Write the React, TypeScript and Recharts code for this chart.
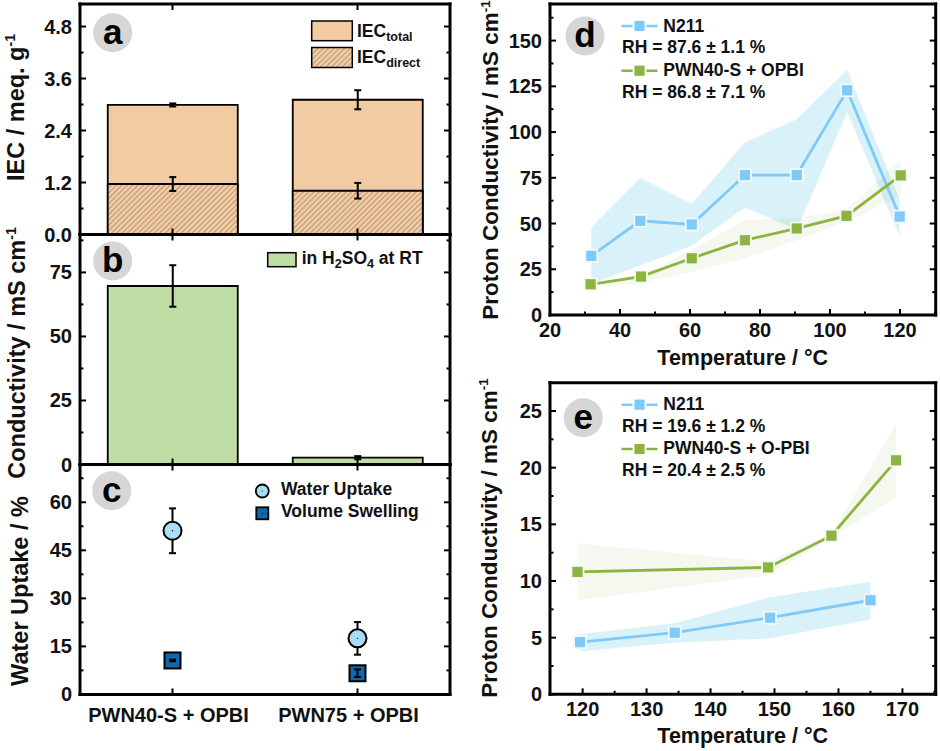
import React from "react";
import { ComposedChart, Bar, Line, Area, XAxis, YAxis, ErrorBar } from "recharts";

const FONT = "'Liberation Sans', Arial, sans-serif";
const BLUE = "#7ECBFB";
const GREEN = "#8CB43F";
const BLUE_BAND = "rgba(120,205,235,0.28)";
const GREEN_BAND = "rgba(150,190,90,0.1)";
const ORANGE = "#F2CBA3";
const BAR_GREEN = "#BFDDA5";
const HATCH = "#6B5A48";

const categories = ["PWN40-S + OPBI", "PWN75 + OPBI"];
const categoryLabelShift = [-4, -9];

// panel a
const iecTotal = [2.99, 3.11];
const iecTotalErr = [0.035, 0.22];
const iecDirect = [1.165, 1.01];
const iecDirectErr = [0.16, 0.18];
const iecTicks = [0, 0.6, 1.2, 1.8, 2.4, 3, 3.6, 4.2, 4.8];
const iecMajor = [0, 1.2, 2.4, 3.6, 4.8];

// panel b
const acidCond = [69.7, 2.66];
const acidCondErr = [8.1, 0.6];
const condTicks = [0, 12.5, 25, 37.5, 50, 62.5, 75, 87.5];
const condMajor = [0, 25, 50, 75];

// panel c
const waterUptake = [51.1, 17.5];
const waterUptakeErr = [7, 5.1];
const swelling = [10.6, 6.6];
const swellingErr = [0.25, 1.2];
const uptakeTicks = [0, 7.5, 15, 22.5, 30, 37.5, 45, 52.5, 60, 67.5];
const uptakeMajor = [0, 15, 30, 45, 60];

// panel d
const dTempN211 = [31.8, 45.8, 60.5, 75.7, 90.5, 104.9, 119.9];
const dCondN211 = [32.3, 51.5, 49.5, 76.5, 76.5, 122.8, 53.8];
const dHighN211 = [48, 75, 60.8, 94.3, 107, 134, 63];
const dLowN211 = [17, 27, 38, 58.8, 46.5, 111, 43.2];
const dTempPwn = [31.6, 46, 60.5, 75.7, 90.5, 104.7, 120.2];
const dCondPwn = [16.8, 21, 31, 40.9, 47.3, 54.2, 76.3];
const dHighPwn = [17.5, 22, 35.6, 52, 53, 57.5, 85];
const dLowPwn = [16, 17.3, 23.7, 31, 41, 51, 65];
const dXTicks = [20, 30, 40, 50, 60, 70, 80, 90, 100, 110, 120, 130];
const dXMajor = [20, 40, 60, 80, 100, 120];
const dYTicks = [0, 12.5, 25, 37.5, 50, 62.5, 75, 87.5, 100, 112.5, 125, 137.5, 150, 162.5];
const dYMajor = [0, 25, 50, 75, 100, 125, 150];

// panel e
const eTempN211 = [119.6, 134.4, 149.3, 165];
const eCondN211 = [4.6, 5.44, 6.76, 8.3];
const eHighN211 = [5.3, 6.26, 8.56, 9.94];
const eLowN211 = [3.8, 4.56, 4.94, 6.6];
const eTempPwn = [119.2, 149, 158.9, 169];
const eCondPwn = [10.8, 11.2, 14, 20.65];
const eHighPwn = [13.3, 11.7, 14.2, 23.85];
const eLowPwn = [8.3, 10.5, 13.8, 17.4];
const eXTicks = [120, 125, 130, 135, 140, 145, 150, 155, 160, 165, 170, 175];
const eXMajor = [120, 130, 140, 150, 160, 170];
const eYTicks = [0, 2.5, 5, 7.5, 10, 12.5, 15, 17.5, 20, 22.5, 25];
const eYMajor = [0, 5, 10, 15, 20, 25];

const iecRows = categories.map((name, i) => ({
  name,
  total: iecTotal[i],
  totalErr: iecTotalErr[i],
  direct: iecDirect[i],
  directErr: iecDirectErr[i],
}));
const acidRows = categories.map((name, i) => ({ name, cond: acidCond[i], err: acidCondErr[i] }));
const uptakeRows = categories.map((name, i) => ({
  name,
  uptake: waterUptake[i],
  uptakeErr: waterUptakeErr[i],
  swelling: swelling[i],
  swellingErr: swellingErr[i],
}));

const rows = (temp: number[], cond: number[], low: number[], high: number[]) =>
  temp.map((t, i) => ({ t, cond: cond[i], band: [low[i], high[i]] }));

const AXIS_LINE = { stroke: "#000", strokeWidth: 3, strokeLinecap: "square" as const };

function AxisTick(props: any) {
  const { x, y, payload, side, majors, fmt, labels, index } = props;
  const major = !majors || majors.includes(payload.value);
  const len = major ? 6 : 3.5;
  const dir = {
    left: [len, 0],
    right: [-len, 0],
    bottom: [0, -len],
    top: [0, len],
  }[side as string] as number[];
  let label = null;
  if (labels && major) {
    const common = { fontFamily: FONT, fontWeight: 700, fontSize: 20, fill: "#111" };
    if (side === "left") {
      label = (
        <text x={x - 8} y={y + 7} textAnchor="end" {...common}>
          {fmt ? fmt(payload.value) : payload.value}
        </text>
      );
    } else {
      const shift = labels === "cat" ? categoryLabelShift[index] : 0;
      label = (
        <text x={x + shift} y={y + (labels === "cat" ? 27.5 : 22)} textAnchor="middle" {...common}>
          {payload.value}
        </text>
      );
    }
  }
  return (
    <g>
      <line x1={x} y1={y} x2={x + dir[0]} y2={y + dir[1]} stroke="#000" strokeWidth={2} />
      {label}
    </g>
  );
}

const tickFor = (side: string, majors?: number[], labels?: any, fmt?: (v: number) => string) => (p: any) =>
  <AxisTick {...p} side={side} majors={majors} labels={labels} fmt={fmt} />;

const SquareDot = (color: string) => (p: any) => (
  <rect
    key={p.index}
    x={p.cx - 6}
    y={p.cy - 6}
    width={12}
    height={12}
    fill={color}
    stroke="#F4F9F6"
    strokeWidth={1.8}
  />
);

const CircleDot = (p: any) => (
  <g key={p.index}>
    <circle cx={p.cx} cy={p.cy} r={9} fill="#A9DDF5" stroke="#000" strokeWidth={2} />
    <circle cx={p.cx} cy={p.cy} r={0.7} fill="#000" />
  </g>
);

const BlackSquare = (p: any) => (
  <g key={p.index}>
    <rect x={p.cx - 8} y={p.cy - 8} width={16} height={16} fill="#0F67AE" stroke="#000" strokeWidth={2} />
    <circle cx={p.cx} cy={p.cy} r={0.7} fill="#000" />
  </g>
);

function BarPanel({ children, data, top, height, topH, bottomH, yDomain, yTicks, yMajor, fmt, catLabels }: any) {
  return (
    <div style={{ position: "absolute", left: 0, top }}>
      <ComposedChart
        width={470}
        height={height}
        data={data}
        margin={{ top: 0, right: 0, bottom: 0, left: 0 }}
        barCategoryGap="15%"
      >
        <defs>
          <pattern id="hatchBar" patternUnits="userSpaceOnUse" width="3.8" height="3.8" patternTransform="rotate(45)">
            <rect width="3.8" height="3.8" fill={ORANGE} />
            <line x1="0" y1="0" x2="0" y2="3.8" stroke={HATCH} strokeWidth="0.9" />
          </pattern>
        </defs>
        <XAxis
          xAxisId="bottom"
          dataKey="name"
          orientation="bottom"
          height={bottomH}
          scale="band"
          interval={0}
          tickSize={0}
          tickMargin={0}
          tickLine={false}
          axisLine={AXIS_LINE}
          tick={tickFor("bottom", undefined, catLabels ? "cat" : undefined)}
        />
        <XAxis
          xAxisId="top"
          dataKey="name"
          orientation="top"
          height={topH}
          scale="band"
          interval={0}
          tickSize={0}
          tickMargin={0}
          tickLine={false}
          axisLine={AXIS_LINE}
          tick={tickFor("top")}
        />
        <YAxis
          yAxisId="left"
          orientation="left"
          width={80}
          type="number"
          domain={yDomain}
          ticks={yTicks}
          interval={0}
          allowDataOverflow
          tickSize={0}
          tickMargin={0}
          tickLine={false}
          axisLine={AXIS_LINE}
          tick={tickFor("left", yMajor, true, fmt)}
        />
        <YAxis
          yAxisId="right"
          orientation="right"
          width={20}
          type="number"
          domain={yDomain}
          ticks={yTicks}
          interval={0}
          allowDataOverflow
          tickSize={0}
          tickMargin={0}
          tickLine={false}
          axisLine={AXIS_LINE}
          tick={tickFor("right", yMajor)}
        />
        {children}
      </ComposedChart>
    </div>
  );
}

function LinePanel({ top, height, topH, bottomH, xDomain, xTicks, xMajor, yDomain, yTicks, yMajor, n211, pwn }: any) {
  return (
    <div style={{ position: "absolute", left: 470, top }}>
      <ComposedChart width={470} height={height} margin={{ top: 0, right: 0, bottom: 0, left: 0 }}>
        <XAxis
          xAxisId="bottom"
          orientation="bottom"
          dataKey="t"
          type="number"
          height={bottomH}
          domain={xDomain}
          ticks={xTicks}
          interval={0}
          allowDataOverflow
          tickSize={0}
          tickMargin={0}
          tickLine={false}
          axisLine={AXIS_LINE}
          tick={tickFor("bottom", xMajor, true)}
        />
        <XAxis
          xAxisId="top"
          orientation="top"
          type="number"
          height={topH}
          domain={xDomain}
          ticks={xTicks}
          interval={0}
          allowDataOverflow
          tickSize={0}
          tickMargin={0}
          tickLine={false}
          axisLine={AXIS_LINE}
          tick={tickFor("top", xMajor)}
        />
        <YAxis
          yAxisId="left"
          orientation="left"
          width={80}
          type="number"
          domain={yDomain}
          ticks={yTicks}
          interval={0}
          allowDataOverflow
          tickSize={0}
          tickMargin={0}
          tickLine={false}
          axisLine={AXIS_LINE}
          tick={tickFor("left", yMajor, true)}
        />
        <YAxis
          yAxisId="right"
          orientation="right"
          width={4.3}
          type="number"
          domain={yDomain}
          ticks={yTicks}
          interval={0}
          allowDataOverflow
          tickSize={0}
          tickMargin={0}
          tickLine={false}
          axisLine={AXIS_LINE}
          tick={tickFor("right", yMajor)}
        />
        <Area
          xAxisId="bottom"
          yAxisId="left"
          data={n211}
          dataKey="band"
          stroke="none"
          fill={BLUE_BAND}
          fillOpacity={1}
          dot={false}
          activeDot={false}
          isAnimationActive={false}
        />
        <Area
          xAxisId="bottom"
          yAxisId="left"
          data={pwn}
          dataKey="band"
          stroke="none"
          fill={GREEN_BAND}
          fillOpacity={1}
          dot={false}
          activeDot={false}
          isAnimationActive={false}
        />
        <Line
          xAxisId="bottom"
          yAxisId="left"
          data={n211}
          dataKey="cond"
          stroke={BLUE}
          strokeWidth={2.8}
          dot={SquareDot(BLUE)}
          activeDot={false}
          isAnimationActive={false}
        />
        <Line
          xAxisId="bottom"
          yAxisId="left"
          data={pwn}
          dataKey="cond"
          stroke={GREEN}
          strokeWidth={2.8}
          dot={SquareDot(GREEN)}
          activeDot={false}
          isAnimationActive={false}
        />
      </ComposedChart>
    </div>
  );
}

const txt = { fontFamily: FONT, fontWeight: 700, fill: "#111" };

function YTitle({ x, y, size, main, sup }: any) {
  return (
    <text transform={`translate(${x},${y}) rotate(-90)`} textAnchor="middle" fontSize={size} {...txt}>
      {main}
      {sup ? (
        <tspan fontSize={size * 0.6} dy={-size * 0.38}>
          {sup}
        </tspan>
      ) : null}
    </text>
  );
}

function Badge({ x, y, letter }: any) {
  return (
    <g>
      <circle cx={x} cy={y} r={19.5} fill="#D6D6D6" />
      <text x={x} y={y + 11} textAnchor="middle" fontSize={35} {...txt} fill="#000">
        {letter}
      </text>
    </g>
  );
}

function LegendText({ x, y, children }: any) {
  return (
    <text x={x} y={y} fontSize={17.5} {...txt}>
      {children}
    </text>
  );
}

function LineKey({ x, y, color }: any) {
  return (
    <g>
      <line x1={x} y1={y} x2={x + 36} y2={y} stroke={color} strokeWidth={2.6} />
      <rect x={x + 12} y={y - 6} width={12} height={12} fill={color} stroke="#fff" strokeWidth={1.8} />
    </g>
  );
}

function Overlay() {
  return (
    <svg width={940} height={751} style={{ position: "absolute", left: 0, top: 0, pointerEvents: "none" }}>
      <defs>
        <pattern id="hatchKey" patternUnits="userSpaceOnUse" width="3.8" height="3.8" patternTransform="rotate(45)">
          <rect width="3.8" height="3.8" fill={ORANGE} />
          <line x1="0" y1="0" x2="0" y2="3.8" stroke={HATCH} strokeWidth="0.9" />
        </pattern>
      </defs>

      <YTitle x={24} y={107.5} size={23.5} main="IEC / meq. g" sup="-1" />
      <YTitle x={25} y={353} size={23.5} main="Conductivity / mS cm" sup="-1" />
      <YTitle x={28} y={591} size={23.5} main="Water Uptake / %" />
      <YTitle x={498.3} y={160} size={22.5} main="Proton Conductivity / mS cm" sup="-1" />
      <YTitle x={496.7} y={538} size={22.5} main="Proton Conductivity / mS cm" sup="-1" />

      <text x={742.7} y={365} textAnchor="middle" fontSize={21.5} {...txt}>
        Temperature / °C
      </text>
      <text x={742.7} y={742.7} textAnchor="middle" fontSize={21.5} {...txt}>
        Temperature / °C
      </text>

      <Badge x={112.7} y={32.7} letter="a" />
      <Badge x={112.7} y={261} letter="b" />
      <Badge x={111.7} y={490.7} letter="c" />
      <Badge x={585} y={36} letter="d" />
      <Badge x={583.3} y={417.7} letter="e" />

      {/* a */}
      <rect x={311.7} y={21} width={40.6} height={19.7} fill={ORANGE} stroke="#000" strokeWidth={1.5} />
      <rect x={311.7} y={47.5} width={40.6} height={20} fill="url(#hatchKey)" stroke="#000" strokeWidth={1.5} />
      <LegendText x={357} y={36.5}>
        IEC<tspan fontSize={12.5} dy={4}>total</tspan>
      </LegendText>
      <LegendText x={357} y={63}>
        IEC<tspan fontSize={12.5} dy={4}>direct</tspan>
      </LegendText>

      {/* b */}
      <rect x={267.7} y={252.7} width={28.3} height={14} fill={BAR_GREEN} stroke="#000" strokeWidth={1.5} />
      <LegendText x={301.7} y={263.7}>
        in H<tspan fontSize={12.5} dy={4}>2</tspan>
        <tspan dy={-4}>SO</tspan>
        <tspan fontSize={12.5} dy={4}>4</tspan>
        <tspan dy={-4}> at RT</tspan>
      </LegendText>

      {/* c */}
      <circle cx={262.3} cy={491} r={6.5} fill="#A9DDF5" stroke="#000" strokeWidth={1.8} />
      <circle cx={262.3} cy={491} r={0.6} fill="#000" />
      <rect x={256.3} y={507.3} width={12} height={12} fill="#0F67AE" stroke="#000" strokeWidth={1.8} />
      <circle cx={262.3} cy={513.3} r={0.6} fill="#000" />
      <LegendText x={281} y={495.3}>Water Uptake</LegendText>
      <LegendText x={281} y={517.3}>Volume Swelling</LegendText>

      {/* d */}
      <LineKey x={621.5} y={26} color={BLUE} />
      <LegendText x={663.3} y={31.7}>N211</LegendText>
      <LegendText x={622} y={53.3}>RH = 87.6 ± 1.1 %</LegendText>
      <LineKey x={621.5} y={70.7} color={GREEN} />
      <LegendText x={663.3} y={76}>PWN40-S + OPBI</LegendText>
      <LegendText x={622} y={97.7}>RH = 86.8 ± 7.1 %</LegendText>

      {/* e */}
      <LineKey x={621.5} y={404.7} color={BLUE} />
      <LegendText x={663.3} y={410}>N211</LegendText>
      <LegendText x={622} y={432}>RH = 19.6 ± 1.2 %</LegendText>
      <LineKey x={621.5} y={449} color={GREEN} />
      <LegendText x={663.3} y={454.3}>PWN40-S + O-PBI</LegendText>
      <LegendText x={622} y={475.7}>RH = 20.4 ± 2.5 %</LegendText>
    </svg>
  );
}

export default function App() {
  return (
    <div style={{ position: "absolute", left: 0, top: 0, width: 940, height: 751, background: "#fff", overflow: "hidden" }}>
      <BarPanel
        data={iecRows}
        top={0}
        height={260}
        topH={4}
        bottomH={25.5}
        yDomain={[0, 5.32]}
        yTicks={iecTicks}
        yMajor={iecMajor}
        fmt={(v: number) => v.toFixed(1)}
      >
        <Bar xAxisId="bottom" yAxisId="left" dataKey="total" fill={ORANGE} stroke="#000" strokeWidth={1.8} isAnimationActive={false}>
          <ErrorBar dataKey="totalErr" direction="y" width={3.5} stroke="#000" strokeWidth={2} />
        </Bar>
        <Bar xAxisId="top" yAxisId="left" dataKey="direct" fill="url(#hatchBar)" stroke="#000" strokeWidth={1.8} isAnimationActive={false}>
          <ErrorBar dataKey="directErr" direction="y" width={3.5} stroke="#000" strokeWidth={2} />
        </Bar>
      </BarPanel>

      <BarPanel
        data={acidRows}
        top={230}
        height={260}
        topH={4.5}
        bottomH={25.5}
        yDomain={[0, 89.8]}
        yTicks={condTicks}
        yMajor={condMajor}
      >
        <Bar xAxisId="bottom" yAxisId="left" dataKey="cond" fill={BAR_GREEN} stroke="#000" strokeWidth={1.8} isAnimationActive={false}>
          <ErrorBar dataKey="err" direction="y" width={3.5} stroke="#000" strokeWidth={2} />
        </Bar>
      </BarPanel>

      <BarPanel
        data={uptakeRows}
        top={460}
        height={270}
        topH={4.5}
        bottomH={35.6}
        yDomain={[0, 71.8]}
        yTicks={uptakeTicks}
        yMajor={uptakeMajor}
        catLabels
      >
        <Line xAxisId="bottom" yAxisId="left" dataKey="uptake" stroke="none" dot={CircleDot} activeDot={false} isAnimationActive={false}>
          <ErrorBar dataKey="uptakeErr" direction="y" width={3.5} stroke="#000" strokeWidth={2} />
        </Line>
        <Line xAxisId="bottom" yAxisId="left" dataKey="swelling" stroke="none" dot={BlackSquare} activeDot={false} isAnimationActive={false} />
        <Line xAxisId="bottom" yAxisId="left" dataKey="swelling" stroke="none" dot={false} activeDot={false} isAnimationActive={false}>
          <ErrorBar dataKey="swellingErr" direction="y" width={3.5} stroke="#000" strokeWidth={2} zIndex={650} />
        </Line>
      </BarPanel>

      <LinePanel
        top={0}
        height={345}
        topH={4}
        bottomH={30}
        xDomain={[20, 130.2]}
        xTicks={dXTicks}
        xMajor={dXMajor}
        yDomain={[0, 170]}
        yTicks={dYTicks}
        yMajor={dYMajor}
        n211={rows(dTempN211, dCondN211, dLowN211, dHighN211)}
        pwn={rows(dTempPwn, dCondPwn, dLowPwn, dHighPwn)}
      />

      <LinePanel
        top={370}
        height={350}
        topH={12.7}
        bottomH={25.7}
        xDomain={[114.9, 175.2]}
        xTicks={eXTicks}
        xMajor={eXMajor}
        yDomain={[0, 27.5]}
        yTicks={eYTicks}
        yMajor={eYMajor}
        n211={rows(eTempN211, eCondN211, eLowN211, eHighN211)}
        pwn={rows(eTempPwn, eCondPwn, eLowPwn, eHighPwn)}
      />

      <Overlay />
    </div>
  );
}
